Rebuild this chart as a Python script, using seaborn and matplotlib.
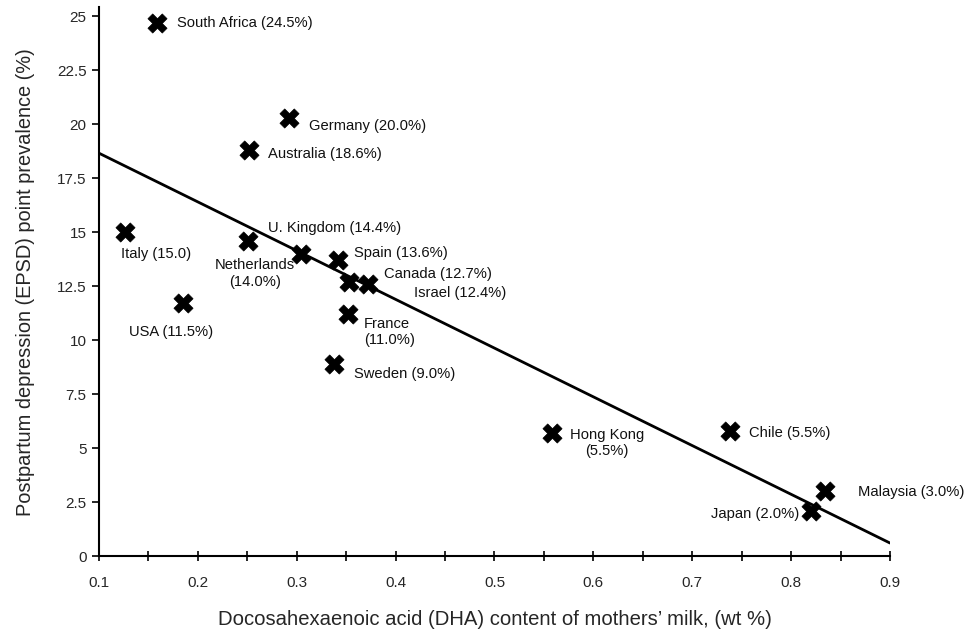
import matplotlib
matplotlib.use("Agg")
import matplotlib.pyplot as plt
import seaborn as sns
import pandas as pd
import numpy as np
from matplotlib.ticker import MultipleLocator, FixedLocator

# ---- data ----
countries = ["South Africa", "Germany", "Australia", "Italy", "Netherlands",
             "U. Kingdom", "Spain", "Canada", "Israel", "USA", "France",
             "Sweden", "Hong Kong", "Chile", "Malaysia", "Japan"]
dha = [0.159, 0.292, 0.252, 0.126, 0.251, 0.304, 0.342, 0.353, 0.372,
       0.185, 0.352, 0.338, 0.558, 0.738, 0.834, 0.820]
ppd = [24.7, 20.3, 18.8, 15.0, 14.6, 14.0, 13.7, 12.7, 12.6, 11.7, 11.2,
       8.9, 5.7, 5.8, 3.0, 2.1]
labels = ["South Africa (24.5%)", "Germany (20.0%)", "Australia (18.6%)",
          "Italy (15.0)", "Netherlands\n(14.0%)", "U. Kingdom (14.4%)",
          "Spain (13.6%)", "Canada (12.7%)", "Israel (12.4%)", "USA (11.5%)",
          "France\n(11.0%)", "Sweden (9.0%)", "Hong Kong\n(5.5%)",
          "Chile (5.5%)", "Malaysia (3.0%)", "Japan (2.0%)"]
fit_x = [0.1, 0.9]
fit_y = [18.65, 0.6]
y_ticks = [0, 2.5, 5, 7.5, 10, 12.5, 15, 17.5, 20, 22.5, 25]
y_tick_labels = ["0", "2.5", "5", "7.5", "10", "12.5", "15", "17.5", "20", "22.5", "25"]
x_ticks = [0.1, 0.2, 0.3, 0.4, 0.5, 0.6, 0.7, 0.8, 0.9]
x_tick_labels = ["0.1", "0.2", "0.3", "0.4", "0.5", "0.6", "0.7", "0.8", "0.9"]

# label offsets in pixels (dx, dy up) and horizontal alignment
offsets = [(20, 0, "left"), (20, -8, "left"), (19, -4, "left"), (-4, -22, "left"),
           (7, -33, "center"), (-33, 26, "left"), (16, 7, "left"), (35, 8, "left"),
           (46, -9, "left"), (-54, -29, "left"), (16, -18, "left"), (20, -10, "left"),
           (55, -10, "center"), (19, -2, "left"), (33, -1, "left"), (-12, -3, "right")]

sns.set_style("ticks")
plt.rcParams["font.family"] = ["Liberation Sans", "DejaVu Sans"]

fig = plt.figure(figsize=(9.69, 6.30), dpi=100)
ax = fig.add_axes([99/969, 1 - 556/630, (890 - 99)/969, (556 - 7.4)/630])

df = pd.DataFrame({"dha": dha, "ppd": ppd, "label": labels})
sns.lineplot(x=fit_x, y=fit_y, ax=ax, color="black", linewidth=2.0)
sns.scatterplot(data=df, x="dha", y="ppd", ax=ax, marker="X", s=190,
                color="black", edgecolor="black", linewidth=0.5, zorder=3)

for (x, y, lab), (dx, dy, ha) in zip(zip(dha, ppd, labels), offsets):
    ax.annotate(lab, (x, y), xytext=(dx, dy), textcoords="offset pixels",
                ha=ha, va="center", fontsize=10.6, multialignment=ha,
                linespacing=1.25, color="#111111")

ax.set_xlim(0.1, 0.9)
ax.set_ylim(0, 25.4)
ax.xaxis.set_major_locator(FixedLocator(x_ticks))
ax.set_xticklabels(x_tick_labels)
ax.xaxis.set_minor_locator(MultipleLocator(0.05))
ax.yaxis.set_major_locator(FixedLocator(y_ticks))
ax.set_yticklabels(y_tick_labels)
ax.tick_params(axis="x", which="both", direction="inout", length=7, width=1.2,
               labelsize=11, pad=11, color="black")
ax.tick_params(axis="y", which="major", direction="out", length=5, width=1.2,
               labelsize=11, pad=4, color="black")

for s in ["top", "right"]:
    ax.spines[s].set_visible(False)
for s in ["left", "bottom"]:
    ax.spines[s].set_linewidth(1.5)
    ax.spines[s].set_color("black")

ax.set_xlabel("Docosahexaenoic acid (DHA) content of mothers\u2019 milk, (wt %)",
              fontsize=14.6, labelpad=14)
ax.set_ylabel("Postpartum depression (EPSD) point prevalence (%)",
              fontsize=14.4, labelpad=16)

fig.savefig("out.png", dpi=100)
